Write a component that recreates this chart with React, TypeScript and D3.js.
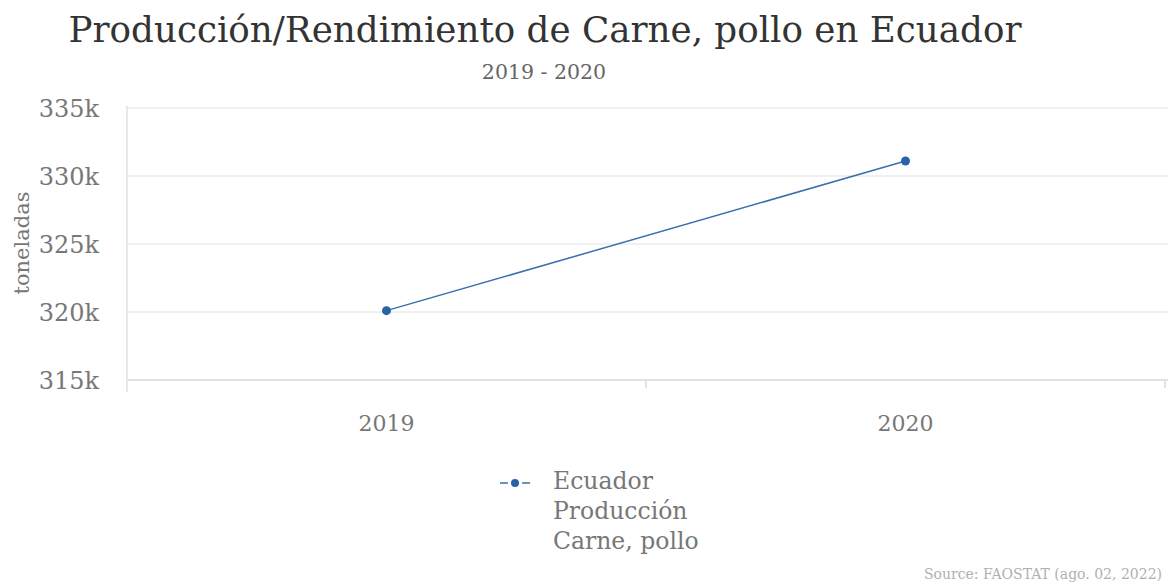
import React from "react";
import * as d3 from "d3";

const years = [2019, 2020];
const values = [320100, 331100];
const yTicks = [315000, 320000, 325000, 330000, 335000];
const xTickLabels = ["2019", "2020"];
const legendLines = ["Ecuador", "Producción", "Carne, pollo"];

const W = 1168;
const H = 586;
const FONT = "'DejaVu Serif', serif";

export default function App() {
  const x = d3.scaleLinear().domain([2018.5, 2020.5]).range([127, 1165]);
  const y = d3.scaleLinear().domain([315000, 335000]).range([380, 108]);
  const line = d3
    .line<number>()
    .x((_, i) => x(years[i]))
    .y((d) => y(d));
  const fmt = (v: number) => d3.format("~s")(v);
  return (
    <svg width={W} height={H} style={{ position: "absolute", left: 0, top: 0, background: "#fff" }}>
      <text x={545} y={42} textAnchor="middle" fontFamily={FONT} fontSize={35.7} fill="#333">
        Producción/Rendimiento de Carne, pollo en Ecuador
      </text>
      <text x={544} y={79} textAnchor="middle" fontFamily={FONT} fontSize={20.5} fill="#666">
        2019 - 2020
      </text>
      {yTicks.map((t) => (
        <g key={t}>
          <line x1={127} x2={W} y1={y(t)} y2={y(t)} stroke={t === 315000 ? "#e2e2e2" : "#f0f0f0"} strokeWidth={2} />
          <text x={99} y={y(t) + 9} textAnchor="end" fontFamily={FONT} fontSize={24} fill="#777">
            {fmt(t)}
          </text>
        </g>
      ))}
      <line x1={127} x2={127} y1={106} y2={392} stroke="#e8e8e8" strokeWidth={2} />
      {[2019.5, 2020.5].map((t) => (
        <line key={t} x1={x(t)} x2={x(t)} y1={380} y2={388} stroke="#e2e2e2" strokeWidth={2} />
      ))}
      {years.map((yr, i) => (
        <text key={yr} x={x(yr)} y={431} textAnchor="middle" fontFamily={FONT} fontSize={22} fill="#777">
          {xTickLabels[i]}
        </text>
      ))}
      <text
        transform={`translate(29,243) rotate(-90)`}
        textAnchor="middle"
        fontFamily={FONT}
        fontSize={21}
        fill="#777"
      >
        toneladas
      </text>
      <path d={line(values) || ""} fill="none" stroke="#3a6fae" strokeWidth={1.5} />
      {values.map((v, i) => (
        <circle key={i} cx={x(years[i])} cy={y(v)} r={4.5} fill="#2a62a8" />
      ))}
      <line x1={500} x2={508} y1={483} y2={483} stroke="#3a6fae" strokeWidth={1.5} />
      <line x1={522} x2={530} y1={483} y2={483} stroke="#3a6fae" strokeWidth={1.5} />
      <circle cx={515} cy={483} r={4} fill="#2a62a8" />
      {legendLines.map((t, i) => (
        <text key={t} x={553} y={489 + i * 30} fontFamily={FONT} fontSize={23.5} fill="#777">
          {t}
        </text>
      ))}
      <text x={1162} y={579} textAnchor="end" fontFamily={FONT} fontSize={14} fill="#b0b0b0">
        Source: FAOSTAT (ago. 02, 2022)
      </text>
    </svg>
  );
}
